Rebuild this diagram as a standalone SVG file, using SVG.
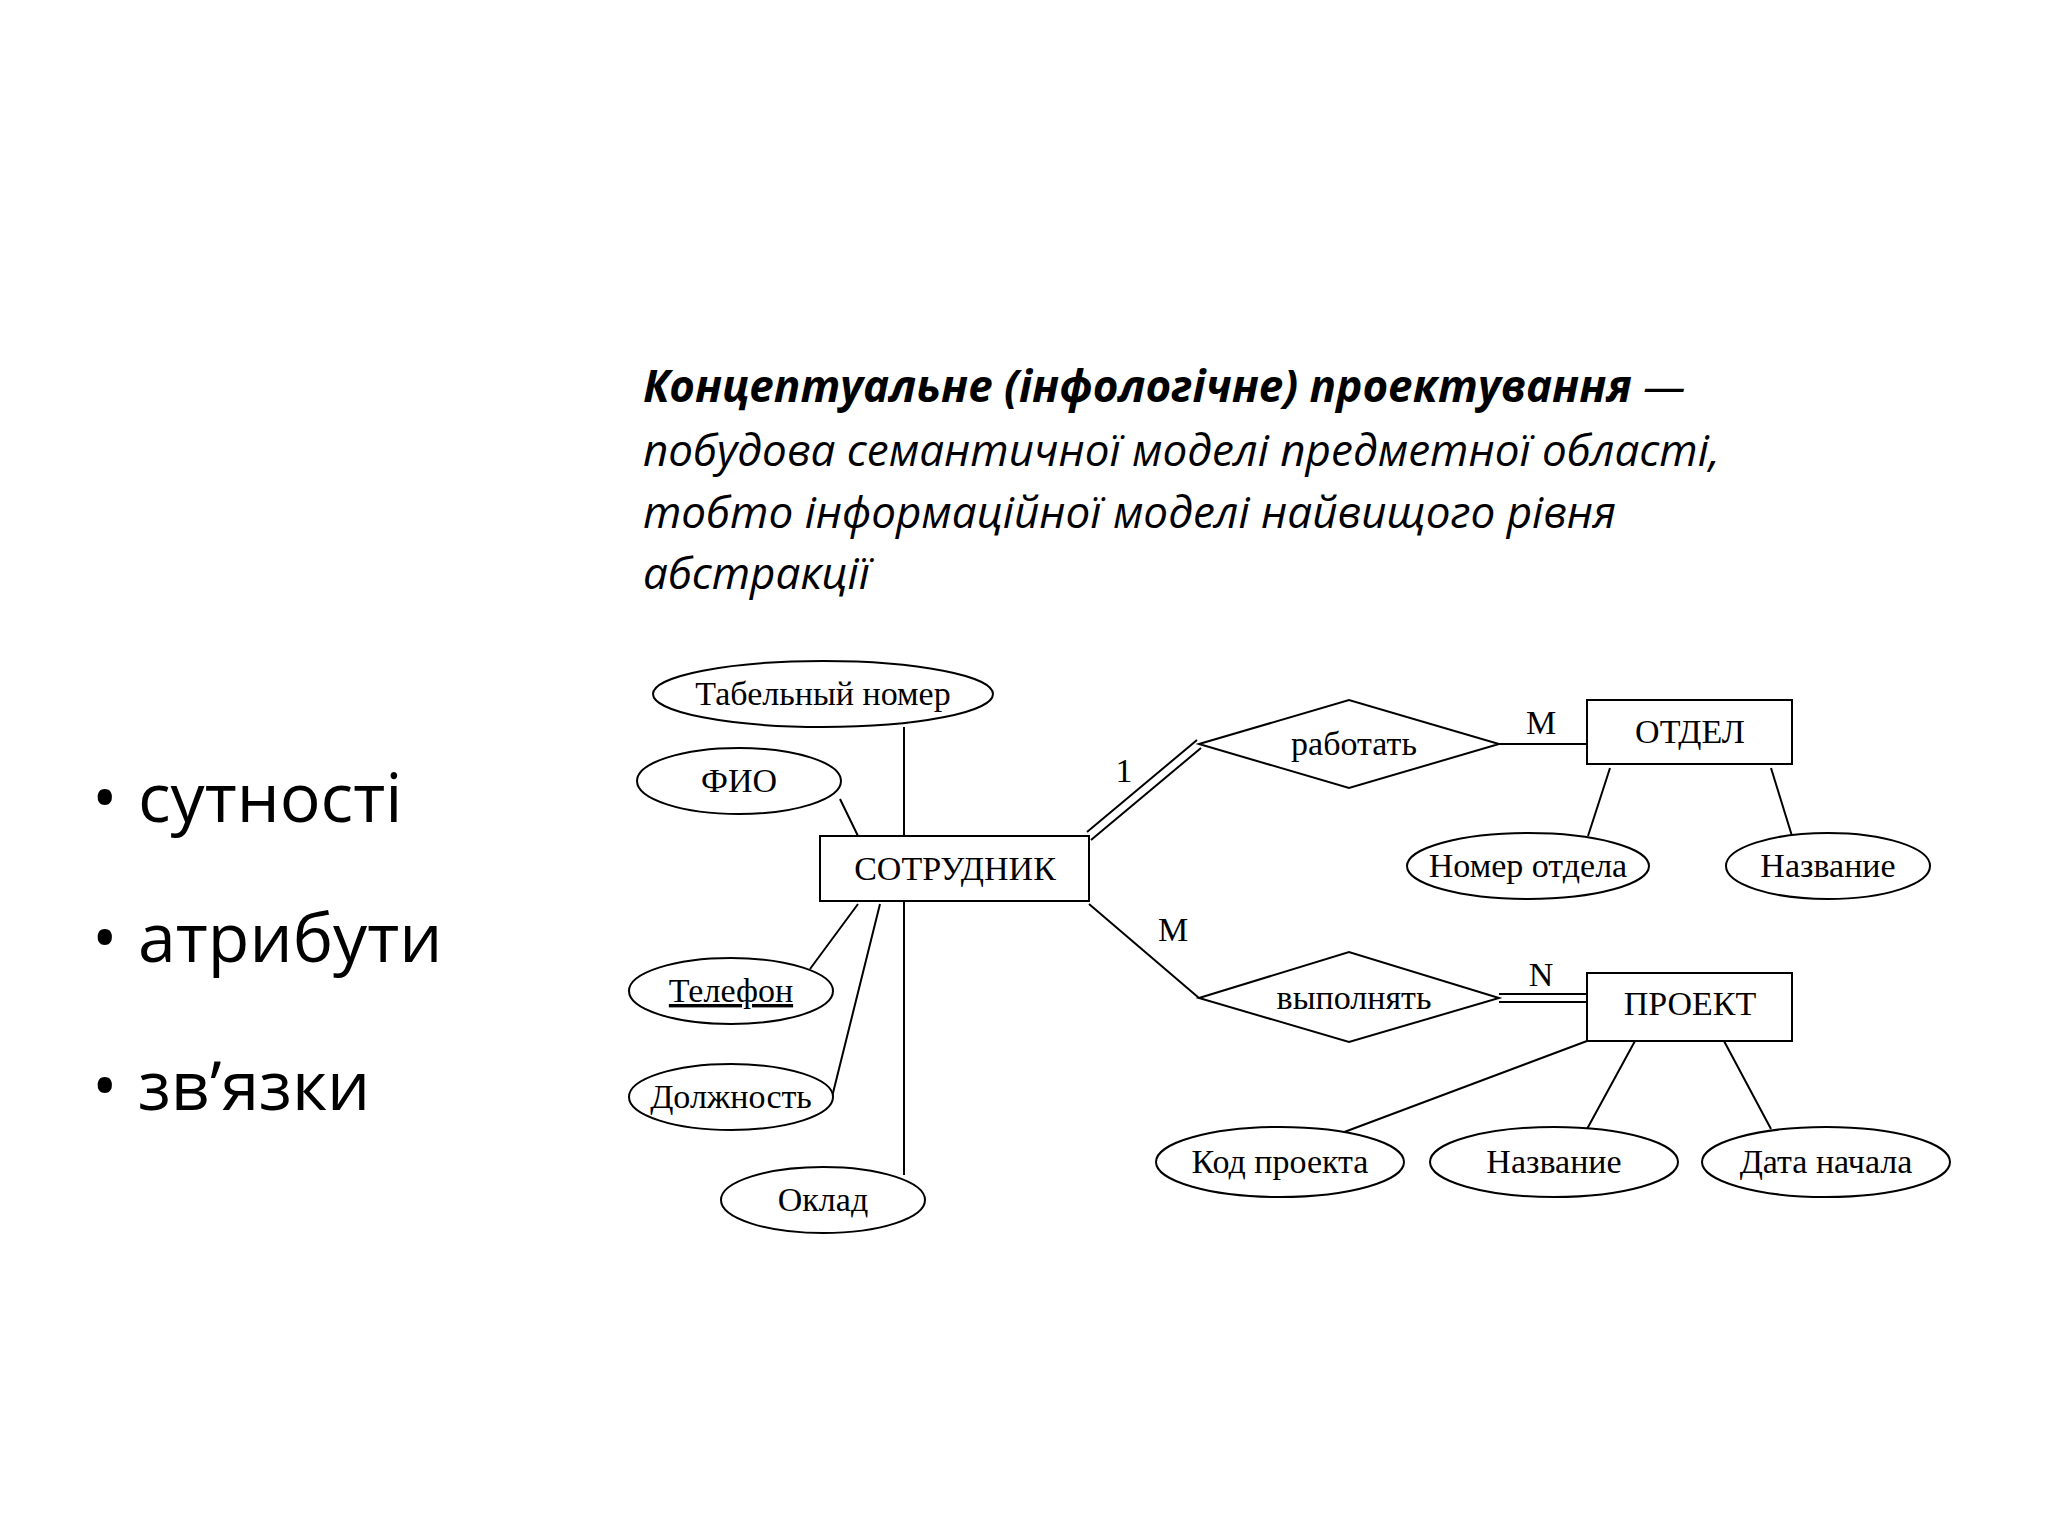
<svg xmlns="http://www.w3.org/2000/svg" width="2048" height="1536" viewBox="0 0 2048 1536">
<style>
.t{font-family:"Open Sans","Noto Sans",sans-serif;font-size:44px;font-style:italic;fill:#000}
.b{font-family:"Open Sans","Noto Sans",sans-serif;font-size:68px;fill:#000}
.s{fill:#fff;stroke:#000;stroke-width:2}
.l{stroke:#000;stroke-width:2;fill:none}
.x{font-family:"Liberation Serif",serif;font-size:34px;fill:#000;text-anchor:middle}
</style>
<rect width="2048" height="1536" fill="#fff"/>
<text class="t" x="643" y="402"><tspan font-weight="bold">Концептуальне (інфологічне) проектування</tspan> —</text>
<text class="t" x="643" y="466">побудова семантичної моделі предметної області,</text>
<text class="t" x="643" y="528">тобто інформаційної моделі найвищого рівня</text>
<text class="t" x="643" y="589">абстракції</text>
<g class="b"><text x="92" y="822">•</text><text x="138" y="822">сутності</text>
<text x="92" y="962">•</text><text x="138" y="962">атрибути</text>
<text x="92" y="1110">•</text><text x="138" y="1110">зв’язки</text></g>
<g id="connectors">
<path class="l" d="M904 727V836M904 901V1175M840 799L858 836M810 969L858 904M832 1097L880 904"/>
<path class="l" d="M1087 832L1197 740M1091 840L1201 748"/>
<path class="l" d="M1499 744H1587M1089 904L1199 998M1499 994H1587M1499 1002H1587"/>
<path class="l" d="M1610 768L1588 836M1771 768L1792 836M1587 1041L1339 1134M1635 1041L1587 1129M1724 1041L1771 1129"/>
<text class="x" x="1124" y="782">1</text>
<text class="x" x="1541" y="734">M</text>
<text class="x" x="1173" y="941">M</text>
<text class="x" x="1541" y="986">N</text>
</g>
<g id="n1"><ellipse class="s" cx="823" cy="694" rx="170" ry="33"/><text class="x" x="823" y="705">Табельный номер</text></g>
<g id="n2"><ellipse class="s" cx="739" cy="781" rx="102" ry="33"/><text class="x" x="739" y="792">ФИО</text></g>
<g id="n3"><rect class="s" x="820" y="836" width="269" height="65"/><text class="x" x="955" y="880">СОТРУДНИК</text></g>
<g id="n4"><ellipse class="s" cx="731" cy="991" rx="102" ry="33"/><text class="x" x="731" y="1002" text-decoration="underline">Телефон</text></g>
<g id="n5"><ellipse class="s" cx="731" cy="1097" rx="102" ry="33"/><text class="x" x="731" y="1108">Должность</text></g>
<g id="n6"><ellipse class="s" cx="823" cy="1200" rx="102" ry="33"/><text class="x" x="823" y="1211">Оклад</text></g>
<g id="n7"><polygon class="s" points="1199,744 1349,700 1499,744 1349,788"/><text class="x" x="1354" y="755">работать</text></g>
<g id="n8"><rect class="s" x="1587" y="700" width="205" height="64"/><text class="x" x="1690" y="743">ОТДЕЛ</text></g>
<g id="n9"><ellipse class="s" cx="1528" cy="866" rx="121" ry="33"/><text class="x" x="1528" y="877">Номер отдела</text></g>
<g id="n10"><ellipse class="s" cx="1828" cy="866" rx="102" ry="33"/><text class="x" x="1828" y="877">Название</text></g>
<g id="n11"><polygon class="s" points="1199,998 1349,952 1499,998 1349,1042"/><text class="x" x="1354" y="1009">выполнять</text></g>
<g id="n12"><rect class="s" x="1587" y="973" width="205" height="68"/><text class="x" x="1690" y="1015">ПРОЕКТ</text></g>
<g id="n13"><ellipse class="s" cx="1280" cy="1162" rx="124" ry="35"/><text class="x" x="1280" y="1173">Код проекта</text></g>
<g id="n14"><ellipse class="s" cx="1554" cy="1162" rx="124" ry="35"/><text class="x" x="1554" y="1173">Название</text></g>
<g id="n15"><ellipse class="s" cx="1826" cy="1162" rx="124" ry="35"/><text class="x" x="1826" y="1173">Дата начала</text></g>
</svg>
